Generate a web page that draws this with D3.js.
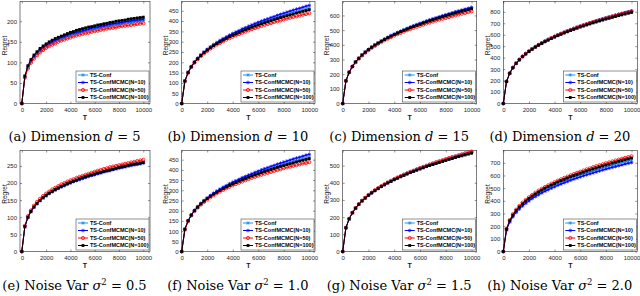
<!DOCTYPE html>
<html>
<head>
<meta charset="utf-8">
<script src="https://cdn.jsdelivr.net/npm/d3@7"></script>
<style>
  body { margin: 0; background: #fff; }
  svg { display: block; }
</style>
</head>
<body>
<svg width="640" height="296"></svg>
<script>
// horizon T (shared by every curve)
const T = [0,250,500,750,1000,1250,1500,1750,2000,2250,2500,2750,3000,3250,3500,3750,4000,4250,4500,4750,5000,
           5250,5500,5750,6000,6250,6500,6750,7000,7250,7500,7750,8000,8250,8500,8750,9000,9250,9500,9750,10000];

// (a) d = 5
const aConf = [0,64,88,102,113,121,128,134,139,143,147,151,154,157,160,163,165,168,170,172,174,176,178,179,181,183,184,186,187,188,190,191,192,194,195,196,197,198,199,200,201];
const aN10  = [0,66,89,104,115,123,130,136,142,146,150,154,157,161,163,166,169,171,173,175,177,179,181,183,185,186,188,189,191,192,194,195,196,197,199,200,201,202,203,204,205];
const aN50  = [0,63,85,99,109,117,124,130,135,139,143,146,150,153,155,158,160,163,165,167,169,171,172,174,176,177,179,180,182,183,184,185,187,188,189,190,191,192,193,194,195];
const aN100 = [0,67,92,107,118,126,134,140,145,150,154,158,161,164,167,170,173,175,178,180,182,184,186,187,189,191,192,194,195,197,198,200,201,202,203,205,206,207,208,209,210];

// (b) d = 10
const bConf = [0,109,150,178,200,218,234,248,260,272,282,292,301,310,318,326,334,341,348,355,361,368,374,380,385,391,397,402,407,412,417,422,427,432,436,441,445,449,454,458,462];
const bN10  = [0,109,151,180,202,220,236,250,263,275,286,296,306,315,323,332,340,347,354,362,368,375,381,388,394,400,406,411,417,422,428,433,438,443,448,453,458,462,467,472,476];
const bN50  = [0,108,149,177,198,215,230,243,255,266,276,286,294,302,310,317,324,331,337,343,349,355,361,366,371,376,381,386,390,395,399,403,408,412,416,420,423,427,431,434,438];
const bN100 = [0,109,150,178,200,217,233,247,259,270,281,290,299,308,316,324,331,338,345,352,358,364,370,376,381,387,392,397,402,407,412,417,421,426,430,434,439,443,447,451,455];

// (c) d = 15
const cConf = [0,154,213,252,283,309,330,350,367,383,398,412,425,437,449,460,471,481,490,500,509,517,526,534,542,550,558,565,572,579,586,593,599,606,612,618,625,631,636,642,648];
const cN10  = [0,155,213,253,284,309,331,351,369,385,400,414,427,440,451,463,473,484,493,503,512,521,530,538,546,554,562,570,577,584,591,598,605,612,618,625,631,637,643,649,655];
const cN50  = [0,154,212,251,281,306,327,346,363,379,393,407,419,431,442,452,463,472,481,490,499,507,515,523,530,537,545,551,558,565,571,577,583,589,595,601,607,612,617,623,628];
const cN100 = [0,154,213,252,283,308,330,349,367,383,398,411,424,436,448,459,469,479,489,498,507,516,524,533,540,548,556,563,570,577,584,591,597,603,610,616,622,628,634,639,645];

// (d) d = 20
const dConf = [0,192,264,313,352,383,411,435,457,477,495,512,529,544,558,572,585,598,610,622,633,644,655,665,675,685,694,704,713,721,730,739,747,755,763,771,779,786,794,801,808];
const dN10  = [0,192,264,313,351,383,410,434,456,476,495,512,528,543,558,571,585,597,609,621,632,643,654,664,674,684,693,702,711,720,729,737,745,753,761,769,777,784,792,799,806];
const dN50  = [0,192,264,313,351,383,410,434,456,476,494,511,527,543,557,571,584,596,608,620,631,642,652,663,673,682,692,701,710,719,727,735,744,752,760,767,775,782,790,797,804];
const dN100 = [0,191,264,312,350,381,409,432,454,473,492,509,524,539,553,567,580,592,604,615,626,637,647,657,667,676,685,694,703,711,720,728,736,743,751,759,766,773,780,787,794];

// (e) sigma^2 = 0.5
const eConf = [0,73,100,118,131,141,150,158,165,171,177,182,187,191,195,199,203,207,210,213,216,219,222,225,228,230,233,235,238,240,242,244,247,249,251,253,255,257,258,260,262];
const eN10  = [0,72,99,116,129,139,148,156,162,169,174,179,184,188,192,196,200,204,207,210,213,216,219,222,224,227,229,232,234,236,239,241,243,245,247,249,251,253,254,256,258];
const eN50  = [0,75,103,120,134,145,154,162,169,175,181,186,191,196,200,204,208,211,215,218,221,224,227,230,233,236,238,241,243,246,248,250,252,254,256,258,260,262,264,266,268];
const eN100 = [0,73,100,117,130,140,149,157,164,170,175,181,185,190,194,198,202,205,208,212,215,218,221,223,226,229,231,234,236,238,240,243,245,247,249,251,253,255,256,258,260];

// (f) sigma^2 = 1.0 -- reads the same as (b)
const fConf = bConf, fN10 = bN10, fN50 = bN50, fN100 = bN100;

// (g) sigma^2 = 1.5
const gConf = [0,138,190,225,253,275,295,312,328,342,356,368,379,390,401,411,420,429,438,446,454,462,469,477,484,491,498,504,511,517,523,529,535,541,546,552,557,563,568,573,578];
const gN10  = [0,138,190,225,253,275,295,312,328,342,355,367,379,390,400,410,419,428,437,445,453,461,468,476,483,490,496,503,509,515,521,527,533,539,545,550,555,561,566,571,576];
const gN50  = [0,138,190,226,253,276,296,313,329,343,357,369,381,392,402,412,422,431,439,448,456,464,471,479,486,493,500,507,513,520,526,532,538,544,550,555,561,566,572,577,582];
const gN100 = [0,138,190,225,252,275,294,311,327,341,354,366,378,388,399,408,418,426,435,443,451,459,466,473,480,487,494,500,506,512,518,524,530,536,541,547,552,557,562,567,572];

// (h) sigma^2 = 2.0
const hConf = [0,173,238,282,317,345,369,391,411,429,445,460,475,489,501,514,525,537,547,558,568,578,587,596,605,614,622,630,638,646,653,661,668,675,682,689,696,703,709,716,722];
const hN10  = [0,168,232,274,308,335,359,380,399,417,433,448,462,475,487,499,511,522,532,542,552,562,571,580,588,597,605,613,620,628,635,643,650,657,664,670,677,683,690,696,702];
const hN50  = [0,180,248,294,330,359,385,407,428,446,464,480,495,509,522,535,547,559,570,581,591,602,611,621,630,639,648,656,665,673,681,688,696,703,711,718,725,732,739,745,752];
const hN100 = [0,176,243,288,323,352,377,399,419,437,454,470,485,499,512,524,536,548,559,569,580,590,599,608,617,626,635,643,651,659,667,675,682,689,697,704,711,717,724,731,737];

const seriesNames = ["TS-Conf", "TS-ConfMCMC(N=10)", "TS-ConfMCMC(N=50)", "TS-ConfMCMC(N=100)"];
const xTicks = [0, 2000, 4000, 6000, 8000, 10000];
const yTicksA = [0, 50, 100, 150, 200];
const yTicksB = [0, 50, 100, 150, 200, 250, 300, 350, 400, 450];
const yTicksC = [0, 100, 200, 300, 400, 500, 600];
const yTicksD = [0, 100, 200, 300, 400, 500, 600, 700, 800];
const yTicksE = [0, 50, 100, 150, 200, 250];
const yTicksG = [0, 100, 200, 300, 400, 500];
const yTicksH = [0, 100, 200, 300, 400, 500, 600, 700];

const capLetters = ["(a)", "(b)", "(c)", "(d)", "(e)", "(f)", "(g)", "(h)"];
const capWords   = ["Dimension", "Dimension", "Dimension", "Dimension", "Noise Var", "Noise Var", "Noise Var", "Noise Var"];
const capSymbols = ["d", "d", "d", "d", "σ", "σ", "σ", "σ"];
const capValues  = ["5", "10", "15", "20", "0.5", "1.0", "1.5", "2.0"];

// ---- styles / layout ----
const colors  = ["#1f8fef", "#0000ff", "#ff0000", "#000000"];
const markers = ["star", "star", "circle", "square"];
const axisColor = "#262626";
const tickFont = "'Liberation Sans', Arial, sans-serif";

const cols = [
  {left: 20,    right: 150,   xMin: -150, xMax: 10550},
  {left: 181.7, right: 315,   xMin: 0,    xMax: 10450},
  {left: 342.7, right: 476.7, xMin: 0,    xMax: 10400},
  {left: 503.3, right: 637.3, xMin: 0,    xMax: 10450}
];
const rows = [
  {top: 1.5,   bottom: 103.5, capY: 141},
  {top: 150.5, bottom: 251.5, capY: 290}
];

const panels = [
  {series: [aConf, aN10, aN50, aN100], yTicks: yTicksA, yMax: 248},
  {series: [bConf, bN10, bN50, bN100], yTicks: yTicksB, yMax: 495},
  {series: [cConf, cN10, cN50, cN100], yTicks: yTicksC, yMax: 695},
  {series: [dConf, dN10, dN50, dN100], yTicks: yTicksD, yMax: 890},
  {series: [eConf, eN10, eN50, eN100], yTicks: yTicksE, yMax: 295},
  {series: [fConf, fN10, fN50, fN100], yTicks: yTicksB, yMax: 495},
  {series: [gConf, gN10, gN50, gN100], yTicks: yTicksG, yMax: 588},
  {series: [hConf, hN10, hN50, hN100], yTicks: yTicksH, yMax: 797}
];

const svg = d3.select("svg");
const fmt = d3.format("d");

function drawMarker(g, kind, color, cx, cy) {
  if (kind === "circle") {
    g.append("circle").attr("cx", cx).attr("cy", cy).attr("r", 1.6)
      .attr("fill", "none").attr("stroke", color).attr("stroke-width", 0.8);
  } else if (kind === "square") {
    g.append("rect").attr("x", cx - 1.4).attr("y", cy - 1.4)
      .attr("width", 2.8).attr("height", 2.8).attr("fill", color);
  } else {
    const s = 1.8, q = 1.3;
    g.append("path")
      .attr("d", `M${cx - s},${cy}H${cx + s}M${cx},${cy - s}V${cy + s}` +
                 `M${cx - q},${cy - q}L${cx + q},${cy + q}M${cx - q},${cy + q}L${cx + q},${cy - q}`)
      .attr("stroke", color).attr("stroke-width", 0.7).attr("fill", "none");
  }
}

function styleAxis(sel) {
  sel.select(".domain").remove();
  sel.selectAll(".tick line").attr("stroke", axisColor).attr("stroke-width", 0.5);
  sel.selectAll(".tick text").attr("fill", axisColor)
    .style("font-family", tickFont).style("font-size", "6px");
}

panels.forEach((p, i) => {
  const c = cols[i % 4], r = rows[Math.floor(i / 4)];
  const x = d3.scaleLinear().domain([c.xMin, c.xMax]).range([c.left, c.right]);
  const y = d3.scaleLinear().domain([0, p.yMax]).range([r.bottom, r.top]);
  const g = svg.append("g");

  // axes, MATLAB-like inward ticks on all sides
  g.append("g").attr("transform", `translate(0,${r.bottom})`)
    .call(d3.axisBottom(x).tickValues(xTicks).tickFormat(fmt).tickSizeInner(-2).tickSizeOuter(0).tickPadding(4))
    .call(styleAxis);
  g.append("g").attr("transform", `translate(0,${r.top})`)
    .call(d3.axisTop(x).tickValues(xTicks).tickSizeInner(-2).tickSizeOuter(0).tickFormat(""))
    .call(styleAxis);
  g.append("g").attr("transform", `translate(${c.left},0)`)
    .call(d3.axisLeft(y).tickValues(p.yTicks).tickFormat(fmt).tickSizeInner(-2).tickSizeOuter(0).tickPadding(3))
    .call(styleAxis);
  g.append("g").attr("transform", `translate(${c.right},0)`)
    .call(d3.axisRight(y).tickValues(p.yTicks).tickSizeInner(-2).tickSizeOuter(0).tickFormat(""))
    .call(styleAxis);

  g.append("rect")
    .attr("x", c.left).attr("y", r.top)
    .attr("width", c.right - c.left).attr("height", r.bottom - r.top)
    .attr("fill", "none").attr("stroke", axisColor).attr("stroke-width", 0.6);

  // curves
  const line = d3.line().x((d, j) => x(T[j])).y(d => y(d));
  p.series.forEach((vals, s) => {
    const sg = g.append("g");
    sg.append("path").datum(vals).attr("d", line)
      .attr("fill", "none").attr("stroke", colors[s]).attr("stroke-width", 1);
    vals.forEach((v, j) => drawMarker(sg, markers[s], colors[s], x(T[j]), y(v)));
  });

  // axis titles
  g.append("text")
    .attr("x", (c.left + c.right) / 2).attr("y", r.bottom + 16)
    .attr("text-anchor", "middle").attr("fill", "#1a1a1a")
    .style("font-family", tickFont).style("font-size", "7px").style("font-weight", "bold")
    .text("T");
  g.append("text")
    .attr("transform", `translate(${c.left - 13.5},${(r.top + r.bottom) / 2 - 7}) rotate(-90)`)
    .attr("text-anchor", "middle").attr("fill", "#1a1a1a")
    .style("font-family", tickFont).style("font-size", "6.5px")
    .text("Regret");

  // legend (south-east)
  const lw = 73, lh = 31;
  const lx = c.right - 1 - lw, ly = r.bottom - 1.5 - lh;
  const lg = g.append("g");
  lg.append("rect").attr("x", lx).attr("y", ly).attr("width", lw).attr("height", lh)
    .attr("fill", "#fff").attr("stroke", axisColor).attr("stroke-width", 0.5);
  seriesNames.forEach((name, s) => {
    const yy = ly + 4 + 7.5 * s;
    lg.append("line").attr("x1", lx + 2).attr("x2", lx + 12).attr("y1", yy).attr("y2", yy)
      .attr("stroke", colors[s]).attr("stroke-width", 1);
    drawMarker(lg, markers[s], colors[s], lx + 7, yy);
    lg.append("text").attr("x", lx + 14).attr("y", yy).attr("dy", "0.35em")
      .attr("fill", "#000")
      .style("font-family", tickFont).style("font-size", "5.5px").style("font-weight", "bold")
      .text(name);
  });

  // caption
  const cap = svg.append("text")
    .attr("x", (c.left + c.right) / 2 - 10.5).attr("y", r.capY)
    .attr("text-anchor", "middle").attr("fill", "#000")
    .style("font-family", "'DejaVu Serif', serif").style("font-size", "13px");
  cap.append("tspan").text(capLetters[i] + " " + capWords[i] + " ");
  cap.append("tspan").style("font-style", "italic").text(capSymbols[i]);
  if (i >= 4) {
    cap.append("tspan").attr("dy", -5).style("font-size", "8.5px").text("2");
    cap.append("tspan").attr("dy", 5).text(" = " + capValues[i]);
  } else {
    cap.append("tspan").text(" = " + capValues[i]);
  }
});
</script>
</body>
</html>
